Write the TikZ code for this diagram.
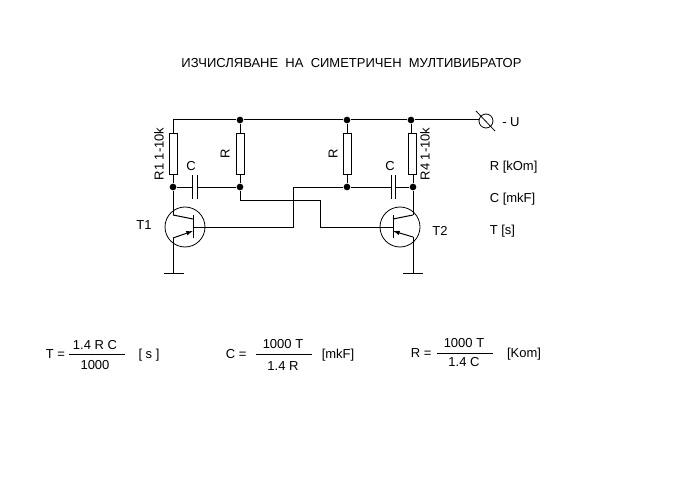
\documentclass[tikz,border=0pt]{standalone}
\usepackage{fontspec}
\setmainfont{Liberation Sans}
\usetikzlibrary{arrows.meta}
\tikzset{
  wire/.style={line width=0.75pt},
  resbox/.style={draw,line width=0.75pt,fill=white,rectangle,minimum width=6pt,minimum height=30pt,inner sep=0pt},
  junction/.style={circle,fill=black,minimum size=5pt,inner sep=0pt},
  transistor/.style={draw,line width=0.6pt,circle,minimum size=30pt,inner sep=0pt},
  terminal/.style={draw,line width=0.6pt,circle,minimum size=10.5pt,inner sep=0pt},
  label/.style={inner sep=0.75pt,font=\fontsize{9.75}{12}\selectfont,text height=7pt,text depth=0pt},
  emitter/.style={wire,-{Latex[length=5pt,width=3.5pt]}}
}
\begin{document}
\begin{tikzpicture}[x=0.75pt,y=0.75pt,yscale=-1,xscale=1]
\useasboundingbox (0,0) rectangle (679,492);

% Junctions
\node [junction] (top2) at (240,120) {};
\node [junction] (top3) at (347,120) {};
\node [junction] (top4) at (411,120) {};
\node [junction] (mid1) at (173,187) {};
\node [junction] (mid2) at (240,187) {};
\node [junction] (mid3) at (347,187) {};
\node [junction] (mid4) at (413,187) {};
\coordinate (top1) at (173,120);

% Resistors
\node [resbox] (r1) at (173,154) {};
\node [resbox] (r2) at (240,154) {};
\node [resbox] (r3) at (347,154) {};
\node [resbox] (r4) at (412.5,154) {};

% Capacitors
\coordinate (c1a) at (192,187);
\coordinate (c1b) at (197,187);
\coordinate (c2a) at (391,187);
\coordinate (c2b) at (395,187);
\draw [wire] (192,175) -- (192,199);
\draw [wire] (197,175) -- (197,199);
\draw [wire] (391,175) -- (391,199);
\draw [wire] (395,175) -- (395,199);

% Transistors
\node [transistor] (q1) at (185,227) {};
\node [transistor] (q2) at (400,227) {};
\draw [wire] (193,215) -- (193,238);
\draw [wire] (393,215) -- (393,238);
\coordinate (col1) at (173,215);
\coordinate (colb1) at (193,219);
\coordinate (em1) at (173,238);
\coordinate (emb1) at (193,231);
\coordinate (base1) at (193,227);
\coordinate (col2) at (413,215);
\coordinate (colb2) at (393,219);
\coordinate (em2) at (413,237);
\coordinate (emb2) at (393,231);
\coordinate (base2) at (393,227);
\draw [wire] (col1) -- (colb1);
\draw [emitter] (em1) -- (emb1);
\draw [wire] (col2) -- (colb2);
\draw [emitter] (em2) -- (emb2);

% Grounds
\coordinate (gnd1) at (173,273);
\coordinate (gnd2) at (413,273);
\draw [wire] (164,273) -- (184,273);
\draw [wire] (403,273) -- (423,273);

% Terminal
\node [terminal] (term) at (486,121) {};
\draw [wire,line width=0.6pt] (476,111) -- (495,131);

% Wires
\draw [wire] (r1.north) -- (top1) -- (top2) -- (top3) -- (top4) -- (term.west |- top4);
\draw [wire] (top2) -- (r2.north);
\draw [wire] (top3) -- (r3.north);
\draw [wire] (top4) -- (top4 |- r4.north);
\draw [wire] (r1.south) -- (mid1);
\draw [wire] (r2.south) -- (mid2);
\draw [wire] (r3.south) -- (mid3);
\draw [wire] (mid4 |- r4.south) -- (mid4);
\draw [wire] (mid1) -- (c1a);
\draw [wire] (c1b) -- (mid2);
\draw [wire] (mid4) -- (c2b);
\draw [wire] (c2a) -- (mid3) -- (293,187) |- (base1);
\draw [wire] (mid2) |- (320,200) |- (base2);
\draw [wire] (mid1) -- (col1);
\draw [wire] (em1) -- (gnd1);
\draw [wire] (mid4) -- (col2);
\draw [wire] (em2) -- (gnd2);

% Text Node
\node [label] (title) at (351.5,63) {ИЗЧИСЛЯВАНЕ\ \ НА\ \ СИМЕТРИЧЕН\ \ МУЛТИВИБРАТОР};
% Text Node
\node [label,rotate=90] (lr1) at (159,154) {R1 1-10k};
\node [label,rotate=90] (lr2) at (225,154) {R};
\node [label,rotate=90] (lr3) at (333,154) {R};
\node [label,rotate=90] (lr4) at (425,154) {R4 1-10k};
\node [label] (lc1) at (191,166) {C};
\node [label] (lc2) at (390,166) {C};
\node [label] (lt1) at (144,225) {T1};
\node [label] (lt2) at (440,231) {T2};
\node [label,anchor=west] (lu) at (501,122) {- U};
% Text Node
\node [label,anchor=west] (unitr) at (488.5,166) {R [kOm]};
\node [label,anchor=west] (unitc) at (488.5,198) {C [mkF]};
\node [label,anchor=west] (unitt) at (488.5,230) {T [s]};

% Formula T
\node [label,anchor=west] (ft) at (44.5,354) {T =};
\node [label] (ftn) at (95,345) {1.4 R C};
\draw [wire] (69,354) -- (125,354);
\node [label] (ftd) at (95,365) {1000};
\node [label] (ftu) at (149,354) {[ s ]};
% Formula C
\node [label,anchor=west] (fc) at (224.5,354) {C =};
\node [label] (fcn) at (283,344) {1000 T};
\draw [wire] (256,354) -- (312,354);
\node [label] (fcd) at (283,366) {1.4 R};
\node [label] (fcu) at (338,354) {[mkF]};
% Formula R
\node [label,anchor=west] (fr) at (409.5,353) {R =};
\node [label] (frn) at (464,343) {1000 T};
\draw [wire] (437,353) -- (493,353);
\node [label] (frd) at (464,362) {1.4 C};
\node [label] (fru) at (524,353) {[Kom]};

\end{tikzpicture}
\end{document}
